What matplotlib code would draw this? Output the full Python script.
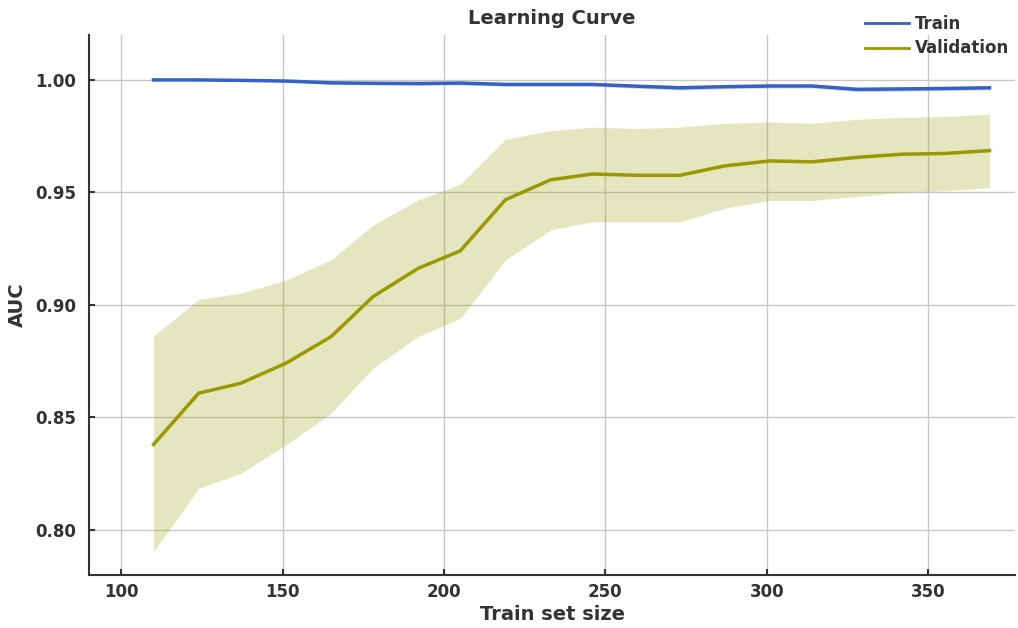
import matplotlib
matplotlib.use("Agg")
import matplotlib.pyplot as plt
import numpy as np

# train set sizes and AUC scores
sizes = [110, 124, 137, 151, 165, 178, 192, 205, 219, 233,
         246, 260, 273, 287, 301, 314, 328, 342, 355, 369]

train_mean = [1.000, 1.000, 0.9998, 0.9995, 0.9987, 0.9985, 0.9984, 0.9986, 0.998, 0.998,
              0.998, 0.9972, 0.9965, 0.997, 0.9973, 0.9973, 0.9958, 0.996, 0.9962, 0.9965]
train_lo = [0.9998, 0.9998, 0.9996, 0.9992, 0.998, 0.9978, 0.9976, 0.9978, 0.9972, 0.9972,
            0.9972, 0.9963, 0.9955, 0.9961, 0.9964, 0.9964, 0.9948, 0.995, 0.9953, 0.9956]
train_hi = [1.000, 1.000, 1.000, 0.9998, 0.9994, 0.9992, 0.9992, 0.9994, 0.9988, 0.9988,
            0.9988, 0.9981, 0.9974, 0.9979, 0.9982, 0.9982, 0.9968, 0.997, 0.9971, 0.9974]

val_mean = [0.838, 0.8608, 0.8652, 0.8741, 0.8859, 0.9037, 0.9163, 0.924, 0.9467, 0.9556,
            0.9582, 0.9576, 0.9576, 0.9618, 0.964, 0.9636, 0.9656, 0.967, 0.9673, 0.9686]
val_lo = [0.7904, 0.8185, 0.8252, 0.8378, 0.8519, 0.8719, 0.886, 0.894, 0.920, 0.9333,
          0.937, 0.9369, 0.9369, 0.943, 0.9464, 0.9464, 0.9482, 0.950, 0.9508, 0.9521]
val_hi = [0.8862, 0.9025, 0.9052, 0.911, 0.920, 0.9355, 0.9467, 0.9536, 0.9736, 0.9775,
          0.979, 0.9784, 0.979, 0.9807, 0.9813, 0.9807, 0.9825, 0.9834, 0.9837, 0.9848]

train_color = "#3561c5"
val_color = "#999900"

plt.rcParams["font.family"] = "DejaVu Sans"
plt.rcParams["font.weight"] = "bold"

fig = plt.figure(figsize=(10.18, 6.28), dpi=100)
ax = fig.add_axes([0.0874, 0.0844, 0.91, 0.86])

ax.fill_between(sizes, train_lo, train_hi, color=train_color, alpha=0.25, linewidth=0)
ax.plot(sizes, train_mean, color=train_color, lw=2.5, label="Train")
ax.fill_between(sizes, val_lo, val_hi, color=val_color, alpha=0.25, linewidth=0)
ax.plot(sizes, val_mean, color=val_color, lw=2.5, label="Validation")

ax.set_xlim(90, 377)
ax.set_ylim(0.78, 1.02)
ax.set_xticks([100, 150, 200, 250, 300, 350])
ax.set_yticks([0.80, 0.85, 0.90, 0.95, 1.00])
ax.yaxis.set_major_formatter(matplotlib.ticker.FormatStrFormatter("%.2f"))

ax.grid(True, color="#c8c8c8", linewidth=1)
ax.set_axisbelow(True)
for s in ["top", "right"]:
    ax.spines[s].set_visible(False)
for s in ["left", "bottom"]:
    ax.spines[s].set_linewidth(1.5)
    ax.spines[s].set_color("#333333")
ax.tick_params(direction="in", length=4, width=1.5, colors="#333333", labelsize=12)
ax.tick_params(axis="y", pad=9)
ax.tick_params(axis="x", pad=6)
for lab in ax.get_xticklabels() + ax.get_yticklabels():
    lab.set_fontweight("bold")

ax.set_title("Learning Curve", fontsize=14, fontweight="bold", color="#333333", pad=8)
ax.set_xlabel("Train set size", fontsize=14, fontweight="bold", color="#333333", labelpad=3)
ax.set_ylabel("AUC", fontsize=14, fontweight="bold", color="#333333", labelpad=6)

leg = ax.legend(loc="upper right", bbox_to_anchor=(1.01, 1.065), frameon=False,
                fontsize=12, handlelength=2.6, handletextpad=0.4, labelspacing=0.4)
for t in leg.get_texts():
    t.set_fontweight("bold")
    t.set_color("#333333")
for h in leg.get_lines():
    h.set_linewidth(2)

fig.savefig("out.png", dpi=100)
